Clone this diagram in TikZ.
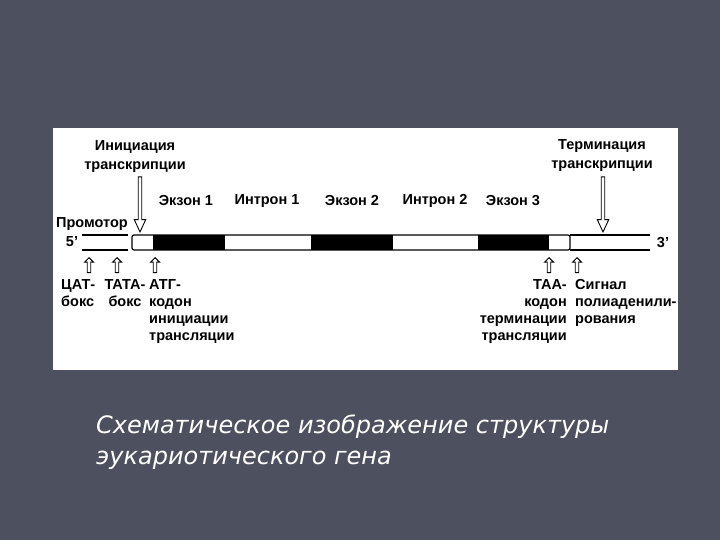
\documentclass[tikz,border=0pt]{standalone}
\usepackage{fontspec}
\setmainfont{Liberation Sans}
\newfontfamily\captionfont{DejaVu Sans}
\usetikzlibrary{shapes.arrows}
\definecolor{slidebg}{RGB}{77,80,94}
\tikzset{
  lbl/.style={font=\bfseries\fontsize{14.5}{17}\selectfont, inner sep=0pt},
  strand/.style={line width=1.2pt},
  bigarrow/.style={single arrow, draw, fill=white, line width=0.9pt,
    minimum height=55pt, inner sep=1.3pt, single arrow head extend=4pt,
    single arrow tip angle=50},
  smallarrow/.style={single arrow, draw, fill=white, line width=0.9pt,
    minimum height=15pt, inner sep=1.3pt, single arrow head extend=2.8pt,
    single arrow tip angle=90},
}
\begin{document}
\begin{tikzpicture}[x=1pt,y=-1pt]
  \useasboundingbox (0,0) rectangle (720,540);
  % Slide and panel
  \fill[slidebg] (0,0) rectangle (720,540);
  \fill[white] (53,128) rectangle (678,370);
  % Promoter strand
  \draw[strand] (82,235) -- (128,235) (82,250) -- (128,250);
  % Transcribed region
  \draw[strand, rounded corners=2pt] (132,235) rectangle (570,250);
  \fill (153,235) rectangle (225,250);
  \fill (311,235) rectangle (393,250);
  \fill (478,235) rectangle (549,250);
  % 3' flank
  \draw[strand] (570,235) -- (650,235) (570,250) -- (650,250);
  \node[lbl] (five) at (72,242) {5'};
  \node[lbl] (three) at (663,243) {3'};
  % Region labels
  \node[lbl] (prom) at (92,224) {Промотор};
  \node[lbl] (ex1) at (186,201) {Экзон 1};
  \node[lbl] (in1) at (267,201) {Интрон 1};
  \node[lbl] (ex2) at (352,201) {Экзон 2};
  \node[lbl] (in2) at (435,201) {Интрон 2};
  \node[lbl] (ex3) at (513,201) {Экзон 3};
  % Transcription start and stop
  \node[lbl, align=center] (init) at (135,157) {Инициация\\[2pt]транскрипции};
  \node[lbl, align=center] (term) at (602,156) {Терминация\\[2pt]транскрипции};
  \coordinate (tss) at (140,233);
  \coordinate (tts) at (603,233);
  \node[bigarrow, rotate=-90, anchor=tip] (tssarrow) at (tss) {};
  \node[bigarrow, rotate=-90, anchor=tip] (ttsarrow) at (tts) {};
  % Signals below the gene
  \coordinate (caat) at (89,257);
  \coordinate (tata) at (117,257);
  \coordinate (atg) at (155,257);
  \coordinate (taa) at (549,257);
  \coordinate (polya) at (577,257);
  \foreach \pt in {caat,tata,atg,taa,polya}
    \node[smallarrow, rotate=90, anchor=tip] (\pt arrow) at (\pt) {};
  \node[lbl, align=left, anchor=north west] (caatlbl) at (61,279) {ЦАТ-\\бокс};
  \node[lbl, align=center, anchor=north] (tatalbl) at (125,279) {ТАТА-\\бокс};
  \node[lbl, align=left, anchor=north west] (atglbl) at (149,279) {АТГ-\\кодон\\инициации\\трансляции};
  \node[lbl, align=right, anchor=north east] (taalbl) at (567,279) {ТАА-\\кодон\\терминации\\трансляции};
  \node[lbl, align=left, anchor=north west] (polyalbl) at (575,279) {Сигнал\\полиаденили-\\рования};
  % Caption
  \node[anchor=north west, inner sep=0pt, text=white, align=left,
    font=\captionfont\itshape\fontsize{24}{31}\selectfont] (caption) at (96,415)
    {Схематическое изображение структуры\\эукариотического гена};
\end{tikzpicture}
\end{document}
